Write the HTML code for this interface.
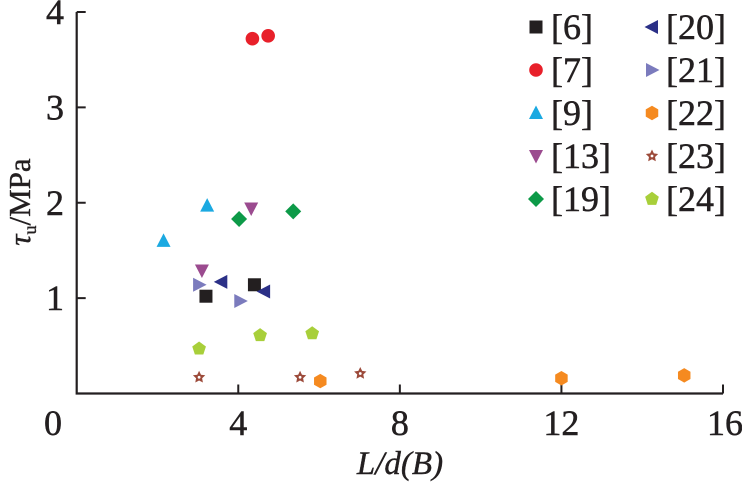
<!DOCTYPE html>
<html><head><meta charset="utf-8"><style>
html,body{margin:0;padding:0;background:#fff;}
svg, svg text{font-family:"Liberation Serif","Times New Roman",Times,serif;}
</style></head><body>
<svg id="chart" width="742" height="484" viewBox="0 0 742 484" xmlns="http://www.w3.org/2000/svg" font-family="Liberation Serif, Times New Roman, serif">
<g id="axes"></g>
<g id="marks"></g>
<g id="legend"></g>
<text transform="translate(30,202) rotate(-90)" text-anchor="middle" font-size="31" fill="#231f20" stroke="#231f20" stroke-width="0.4"><tspan font-style="italic">τ</tspan><tspan font-size="18" dy="6">u</tspan><tspan dy="-6">/MPa</tspan></text>
<text x="400" y="474" text-anchor="middle" font-size="33" font-style="italic" fill="#231f20" stroke="#231f20" stroke-width="0.4">L/d(B)</text>
</svg>
<script>
const xTicks=[0,4,8,12,16];
const yTicks=[1,2,3,4];
const seriesNames=["[6]","[7]","[9]","[13]","[19]","[20]","[21]","[22]","[23]","[24]"];
const seriesShapes=["square","circle","tri-up","tri-down","diamond","tri-left","tri-right","hexagon","star","pentagon"];
const seriesColors=["#231f20","#e8202a","#1ba9e1","#9b4b8f","#0d9a48","#2b3087","#7b7bbd","#f58a20","#9c4a3a","#a8cf3a"];
const s6x=[3.2,4.4], s6y=[1.02,1.14];
const s7x=[4.35,4.74], s7y=[3.72,3.75];
const s9x=[2.15,3.23], s9y=[1.6,1.97];
const s13x=[3.1,4.32], s13y=[1.29,1.94];
const s19x=[4.02,5.36], s19y=[1.83,1.91];
const s20x=[3.58,4.64], s20y=[1.17,1.07];
const s21x=[3.03,4.05], s21y=[1.14,0.97];
const s22x=[6.03,12.0,15.04], s22y=[0.13,0.16,0.19];
const s23x=[3.03,5.53,7.02], s23y=[0.17,0.17,0.21];
const s24x=[3.03,4.54,5.83], s24y=[0.47,0.61,0.63];
const allX=[s6x,s7x,s9x,s13x,s19x,s20x,s21x,s22x,s23x,s24x];
const allY=[s6y,s7y,s9y,s13y,s19y,s20y,s21y,s22y,s23y,s24y];

const NS="http://www.w3.org/2000/svg";
const X0=76.7,X1=723,Y0=393.5,Y1=12;
const xs=v=>X0+(v-0)/(16-0)*(X1-X0);
const ys=v=>Y0-(v-0)/(4-0)*(Y0-Y1);
function mk(tag,attrs,parent){const e=document.createElementNS(NS,tag);for(const k in attrs)e.setAttribute(k,attrs[k]);parent.appendChild(e);return e;}
const TXT={fill:'#231f20',stroke:'#231f20','stroke-width':0.5};
const axes=document.getElementById('axes');
const ax=mk('path',{d:`M${X0},${Y1} L${X0},${Y0} L${X1},${Y0}`,fill:'none',stroke:'#231f20','stroke-width':2.2},axes);


xTicks.forEach(t=>{
  if(t>0){const l=mk('line',{x1:xs(t),x2:xs(t),y1:Y0,y2:Y0-9,stroke:'#231f20','stroke-width':2},axes);
  
  }
  const tx=mk('text',Object.assign({x:t===0?53:xs(t)+(t===16?2:0),y:435,'text-anchor':'middle','font-size':36},TXT),axes);
  tx.textContent=t;
  
  
});
yTicks.forEach(t=>{
  const l=mk('line',{x1:X0,x2:X0+9,y1:ys(t),y2:ys(t),stroke:'#231f20','stroke-width':2},axes);
  
  
  const tx=mk('text',Object.assign({x:64,y:ys(t)+12,'text-anchor':'end','font-size':36},TXT),axes);
  tx.textContent=t;
  
  
});
function poly(n,r,rot){let p=[];for(let i=0;i<n;i++){const a=rot+i*2*Math.PI/n;p.push((r*Math.cos(a)).toFixed(2)+','+(r*Math.sin(a)).toFixed(2));}return p.join(' ');}
function star(R,r){let p=[];for(let i=0;i<10;i++){const a=-Math.PI/2+i*Math.PI/5;const rr=i%2?r:R;p.push((rr*Math.cos(a)).toFixed(2)+','+(rr*Math.sin(a)).toFixed(2));}return p.join(' ');}
function marker(shape,color,cx,cy,parent){
  const g=mk('g',{transform:`translate(${cx},${cy})`,fill:color},parent);
  switch(shape){
    case 'square':mk('rect',{x:-6.5,y:-6.5,width:13,height:13},g);break;
    case 'circle':mk('circle',{r:6.8},g);break;
    case 'tri-up':mk('polygon',{points:'0,-7.5 7,6 -7,6'},g);break;
    case 'tri-down':mk('polygon',{points:'0,7.5 7,-6 -7,-6'},g);break;
    case 'tri-left':mk('polygon',{points:'-7.5,0 6,-7 6,7'},g);break;
    case 'tri-right':mk('polygon',{points:'7.5,0 -6,-7 -6,7'},g);break;
    case 'diamond':mk('polygon',{points:'0,-8 8,0 0,8 -8,0'},g);break;
    case 'hexagon':mk('polygon',{points:poly(6,7.2,Math.PI/2)},g);break;
    case 'pentagon':mk('polygon',{points:poly(5,7.2,-Math.PI/2)},g);break;
    case 'star':mk('polygon',{points:star(6.5,3.2)},g);mk('circle',{r:1.4,fill:'#fff'},g);break;
  }
  return g;
}
const marks=document.getElementById('marks');
seriesNames.forEach((n,i)=>{
  allX[i].forEach((xv,j)=>{
    const g=marker(seriesShapes[i],seriesColors[i],xs(xv),ys(allY[i][j]),marks);
    
    
  });
});
const legend=document.getElementById('legend');
seriesNames.forEach((n,i)=>{
  const col=i<5?0:1,row=i%5;
  const mx=col?652:536, ty=27+row*43;
  const g=marker(seriesShapes[i],seriesColors[i],mx,ty,legend);
  
  
  const t=mk('text',Object.assign({x:col?666:551,y:ty+12,'font-size':36},TXT),legend);
  t.textContent=n;
  
  
});
</script>
</body></html>
